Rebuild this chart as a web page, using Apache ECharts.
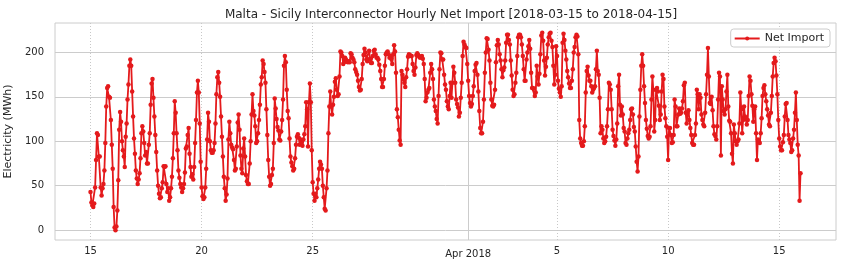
<!DOCTYPE html>
<html><head><meta charset="utf-8">
<script src="https://cdn.jsdelivr.net/npm/echarts@6/dist/echarts.min.js"></script>
<style>html,body{margin:0;padding:0;background:#fff}#c{width:843px;height:267px}</style>
</head><body><div id="c"></div>
<script>
// Hourly net import (MWh), one array per day, starting 2018-03-15 00:00
const startDate = '2018-03-15';
const d01 = [43,31,28,26,30,48,79,109,107,83,83,48,39,47,52,67,98,139,160,162,150,149,124,96];
const d02 = [69,26,3,0,4,22,56,113,133,122,100,90,83,71,105,120,147,164,185,192,185,156,128,103];
const d03 = [86,67,58,52,57,64,81,109,117,111,98,84,88,75,75,96,109,141,165,170,149,128,107,88];
const d04 = [67,50,41,36,37,47,54,72,71,72,52,43,47,33,37,47,60,81,109,145,132,109,90,67];
const d05 = [59,52,48,43,47,52,65,92,94,107,115,86,71,60,63,57,71,98,124,155,168,155,120,77];
const d06 = [48,38,35,37,48,69,102,132,122,100,90,87,87,90,98,120,153,172,178,166,150,128,105,83];
const d07 = [60,47,33,40,58,102,122,109,96,93,91,79,67,69,94,121,130,113,84,69,64,92,103,83];
const d08 = [62,55,52,52,75,100,130,153,134,129,117,98,100,109,124,141,164,172,191,187,178,166,136,107];
const d09 = [79,60,50,52,62,69,98,148,137,125,116,112,102,101,111,124,147,185,196,189,158,134,126,103];
const d10 = [83,76,72,67,69,81,96,105,108,104,96,102,99,95,102,108,117,144,136,94,144,165,144,90];
const d11 = [54,41,33,41,37,47,57,69,77,74,69,50,37,24,22,47,67,109,139,156,139,130,141,150];
const d12 = [167,171,158,151,153,173,201,200,196,187,189,194,192,190,189,190,189,199,198,194,192,189,181,178];
const d13 = [175,168,161,157,158,170,187,197,204,200,192,190,192,202,193,188,188,196,202,203,198,194,194,192];
const d14 = [186,179,170,161,161,170,185,198,200,201,198,194,196,193,187,198,208,201,177,136,127,113,101,96];
const d15 = [179,175,170,166,161,172,181,195,198,197,196,196,187,179,175,183,197,199,197,195,194,195,196,193];
const d16 = [187,170,145,149,155,158,160,177,187,181,170,147,139,134,125,120,151,181,200,199,192,192,175,164];
const d17 = [158,145,139,136,151,166,149,166,184,177,166,147,142,138,128,132,149,166,196,212,209,206,205,187];
const d18 = [168,151,143,139,142,151,162,179,186,188,175,156,134,115,109,109,122,147,177,200,216,215,203,191];
const d19 = [166,147,140,139,141,158,189,208,214,209,198,191,181,172,180,183,191,211,220,220,214,209,191,174];
const d20 = [158,151,153,166,177,196,217,220,220,217,209,196,181,168,168,192,200,207,214,204,177,160,160,159];
const d21 = [151,155,185,173,164,176,198,219,222,213,191,174,184,194,209,217,221,222,213,206,185,164,175,207];
const d22 = [196,168,159,155,150,162,211,221,214,202,192,179,172,165,160,160,168,181,200,206,217,220,218,198];
const d23 = [124,103,98,95,95,100,117,155,179,184,174,168,168,162,155,158,160,162,181,202,179,175,149,109];
const d24 = [117,113,103,98,100,105,117,136,166,164,158,136,113,106,101,95,102,120,162,175,141,129,139,130];
const d25 = [115,111,98,96,103,109,113,124,136,137,130,116,111,94,77,66,83,128,158,185,198,185,162,143];
const d26 = [124,114,106,103,105,117,147,173,158,111,124,158,160,156,140,124,130,156,175,170,139,126,117,105];
const d27 = [79,115,115,107,98,99,107,147,139,117,117,130,137,131,132,137,145,163,166,132,120,132,135,124];
const d28 = [115,107,98,96,96,107,120,158,153,136,153,149,130,124,119,117,132,153,175,205,173,143,142,150];
const d29 = [135,117,108,106,102,117,147,177,173,84,162,147,134,130,136,156,175,139,123,122,109,86,75,119];
const d30 = [109,100,96,100,102,120,155,136,109,124,139,128,126,119,124,151,173,168,153,140,122,136,139,109];
const d31 = [79,102,100,98,109,126,151,160,163,153,145,136,129,119,117,132,151,173,188,194,190,174,153,124];
const d32 = [103,94,90,90,99,107,128,142,143,124,107,102,98,88,90,103,113,132,155,124,96,84,33,64];

const yTicks = [0, 50, 100, 150, 200];
const xTickDates = ['2018-03-15','2018-03-20','2018-03-25','2018-04-05','2018-04-10','2018-04-15'];
const xTickLabels = ['15','20','25','5','10','15'];
const majorTickDate = '2018-04-01';
const majorTickLabel = 'Apr 2018';

const netImport = [].concat(d01,d02,d03,d04,d05,d06,d07,d08,d09,d10,d11,d12,d13,d14,d15,d16,
  d17,d18,d19,d20,d21,d22,d23,d24,d25,d26,d27,d28,d29,d30,d31,d32);

const t0 = Date.parse(startDate + 'T00:00:00Z');
const hoursOf = s => (Date.parse(s + 'T00:00:00Z') - t0) / 3600000;
const xTicks = xTickDates.map(hoursOf);
const majorTick = hoursOf(majorTickDate);
const data = netImport.map((v, i) => [i, v]);
const n = netImport.length - 1;
const xMin = -0.05 * n, xMax = 1.05 * n;
const vMin = Math.min(...netImport), vMax = Math.max(...netImport);
const span = vMax - vMin;
const yMin = vMin - 0.05 * span, yMax = vMax + 0.05 * span;

const txt = '#262626';
const font = 'DejaVu Sans';
const chart = echarts.init(document.getElementById('c'), null, {renderer: 'canvas'});
chart.setOption({
  animation: false,
  backgroundColor: '#ffffff',
  textStyle: {fontFamily: font},
  title: {
    text: 'Malta - Sicily Interconnector Hourly Net Import [2018-03-15 to 2018-04-15]',
    left: 446, top: 4, textAlign: 'center',
    textStyle: {fontFamily: font, fontSize: 12, fontWeight: 'normal', color: txt}
  },
  legend: {
    data: ['Net Import'], right: 13, top: 29,
    backgroundColor: '#ffffff', borderColor: '#cccccc', borderWidth: 1, borderRadius: 3,
    padding: [4, 6, 3, 3], itemWidth: 25, itemHeight: 5, itemGap: 5,
    textStyle: {fontFamily: font, fontSize: 11, color: txt}
  },
  grid: {left: 55, right: 7, top: 23, bottom: 27, show: true, borderColor: '#cccccc', borderWidth: 1,
    containLabel: false, outerBoundsMode: 'none'},
  xAxis: [{
    type: 'value', min: xMin, max: xMax, position: 'bottom',
    axisLine: {show: false}, axisTick: {show: false, customValues: xTicks},
    axisLabel: {customValues: xTicks, margin: 6, fontSize: 10, color: txt, fontFamily: font,
      formatter: v => { const k = xTicks.indexOf(v); return k >= 0 ? xTickLabels[k] : ''; }},
    splitLine: {show: true, lineStyle: {color: '#c8c8c8', type: [1, 2], width: 1}}
  }, {
    type: 'value', min: xMin, max: xMax, position: 'bottom', offset: 0,
    axisLine: {show: false}, axisTick: {show: false, customValues: [majorTick]},
    axisLabel: {customValues: [majorTick], margin: 9, fontSize: 10, color: txt, fontFamily: font,
      formatter: () => majorTickLabel},
    splitLine: {show: true, lineStyle: {color: '#cccccc', type: 'solid', width: 1}}
  }],
  yAxis: {
    type: 'value', min: yMin, max: yMax,
    name: 'Electricity (MWh)', nameLocation: 'middle', nameGap: 35,
    nameTextStyle: {fontFamily: font, fontSize: 11, color: txt},
    axisLine: {show: false}, axisTick: {show: false, customValues: yTicks},
    axisLabel: {customValues: yTicks, margin: 11, fontSize: 10, color: txt, fontFamily: font},
    splitLine: {show: true, lineStyle: {color: '#cccccc', width: 1}}
  },
  series: [{
    name: 'Net Import', type: 'line', xAxisIndex: 0, data: data,
    symbol: 'circle', symbolSize: 4.5, showSymbol: true, showAllSymbol: true,
    lineStyle: {color: '#e41a1c', width: 1.8}, itemStyle: {color: '#e41a1c'},
    sampling: null
  }]
});
</script></body></html>
